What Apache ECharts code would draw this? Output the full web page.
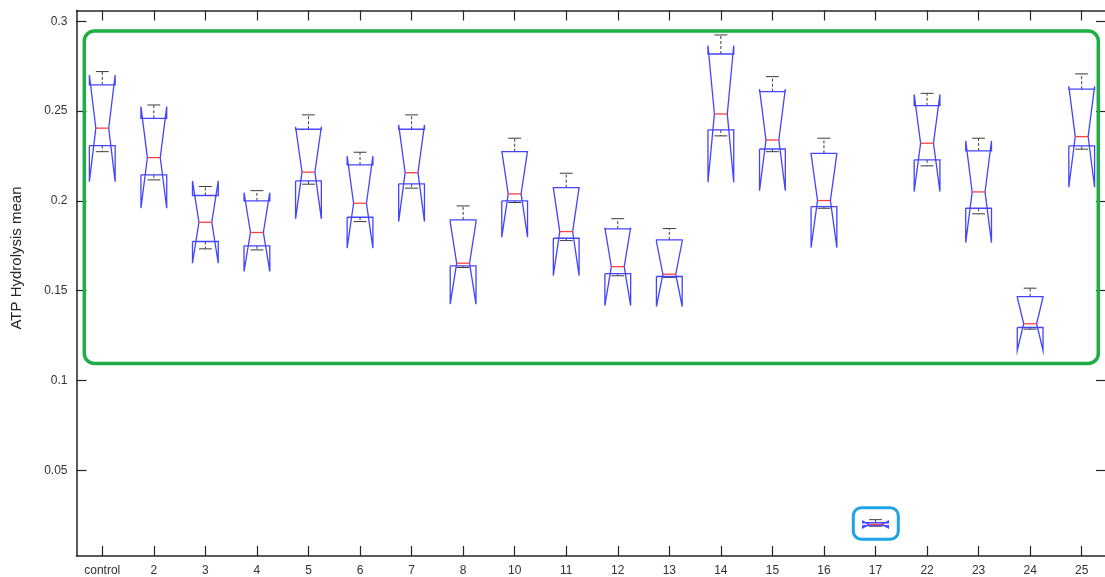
<!DOCTYPE html>
<html>
<head>
<meta charset="utf-8">
<script src="https://cdn.jsdelivr.net/npm/echarts@6/dist/echarts.min.js"></script>
<style>
html,body{margin:0;padding:0;background:#fff;}
#chart{width:1105px;height:577px;}
</style>
</head>
<body>
<div id="chart"></div>
<script>
const categories = ['control','2','3','4','5','6','7','8','10','11','12','13','14','15','16','17','22','23','24','25'];
const whiskerHigh = [0.2720,0.2534,0.2080,0.2057,0.2479,0.2271,0.2479,0.1972,0.2349,0.2154,0.1901,0.1846,0.2924,0.2692,0.2349,0.0225,0.2599,0.2349,0.1514,0.2707];
const notchHigh   = [0.2701,0.2525,0.2111,0.2046,0.2413,0.2250,0.2423,0.1883,0.2278,0.2074,0.1851,0.1775,0.2865,0.2622,0.2263,0.0217,0.2593,0.2334,0.1464,0.2638];
const q3          = [0.2646,0.2460,0.2030,0.2000,0.2399,0.2200,0.2399,0.1894,0.2274,0.2074,0.1844,0.1783,0.2818,0.2608,0.2265,0.0208,0.2530,0.2278,0.1467,0.2622];
const median      = [0.2405,0.2241,0.1881,0.1824,0.2160,0.1987,0.2157,0.1653,0.2039,0.1829,0.1634,0.1592,0.2484,0.2339,0.2002,0.0198,0.2321,0.2050,0.1316,0.2358];
const q1          = [0.2308,0.2145,0.1774,0.1750,0.2111,0.1909,0.2095,0.1638,0.2000,0.1792,0.1595,0.1579,0.2395,0.2289,0.1968,0.0192,0.2228,0.1959,0.1295,0.2306];
const whiskerLow  = [0.2274,0.2117,0.1733,0.1727,0.2093,0.1885,0.2071,0.1629,0.1991,0.1779,0.1583,0.1574,0.2362,0.2274,0.1959,0.0189,0.2195,0.1928,0.1286,0.2288];
const notchLow    = [0.2107,0.1959,0.1653,0.1607,0.1900,0.1737,0.1885,0.1425,0.1798,0.1584,0.1417,0.1412,0.2104,0.2057,0.1740,0.0179,0.2052,0.1768,0.1167,0.2076];
const yTicks = [0.05,0.1,0.15,0.2,0.25,0.3];
const yLabels = ['0.05','0.1','0.15','0.2','0.25','0.3'];
const yMin = 0.00228, yMax = 0.30601;
const xPositions = categories.map((c,i)=>i+1);
const xMin = 0.5, xMax = 20.452;

const data = categories.map((c,i)=>[xPositions[i], whiskerLow[i], q1[i], median[i], q3[i], whiskerHigh[i], notchLow[i], notchHigh[i]]);

const BLUE = '#4444ff', RED = '#ff4040', BLACK = '#3a3a3a';
const FONT = "'Liberation Sans', Arial, Helvetica, sans-serif";
const AX = '#262626';

function renderItem(params, api){
  const x = api.value(0);
  const unit = api.size([1,0])[0];
  const h = unit*0.25;
  const cx = api.coord([x, api.value(3)])[0];
  const Y = v => api.coord([x, v])[1];
  const wl=Y(api.value(1)), yq1=Y(api.value(2)), ym=Y(api.value(3)), yq3=Y(api.value(4)), wh=Y(api.value(5)), nlo=Y(api.value(6)), nhi=Y(api.value(7));
  const pts = [[cx-h,yq1],[cx-h,nlo],[cx-h/2,ym],[cx-h,nhi],[cx-h,yq3],[cx+h,yq3],[cx+h,nhi],[cx+h/2,ym],[cx+h,nlo],[cx+h,yq1],[cx-h,yq1]];
  const ch = h/2;
  return {type:'group', children:[
    {type:'line', shape:{x1:cx,y1:yq3,x2:cx,y2:wh}, style:{stroke:BLACK,lineWidth:1,lineDash:[3,2]}},
    {type:'line', shape:{x1:cx,y1:yq1,x2:cx,y2:wl}, style:{stroke:BLACK,lineWidth:1,lineDash:[3,2]}},
    {type:'line', shape:{x1:cx-ch,y1:wh,x2:cx+ch,y2:wh}, style:{stroke:BLACK,lineWidth:1}},
    {type:'line', shape:{x1:cx-ch,y1:wl,x2:cx+ch,y2:wl}, style:{stroke:BLACK,lineWidth:1}},
    {type:'polyline', shape:{points:pts}, style:{stroke:BLUE,fill:null,lineWidth:1.3,lineJoin:'miter'}},
    {type:'line', shape:{x1:cx-h/2,y1:ym,x2:cx+h/2,y2:ym}, style:{stroke:RED,lineWidth:1.3}}
  ]};
}

const chart = echarts.init(document.getElementById('chart'), null, {renderer:'canvas'});
const axisLineStyle = {color:AX, width:1.5};
const tickStyle = {color:AX, width:1.2};
chart.setOption({
  animation:false,
  backgroundColor:'#fff',
  grid:{left:76.5, top:10.5, right:0, height:545.5, containLabel:false},
  xAxis:[
    {type:'value', min:xMin, max:xMax, position:'bottom',
     axisLine:{show:true, onZero:false, lineStyle:axisLineStyle},
     axisTick:{show:true, inside:true, length:10, customValues:xPositions, lineStyle:tickStyle},
     axisLabel:{customValues:xPositions, color:'#333', fontSize:12, fontFamily:FONT, margin:9,
       formatter:v=>{const k=xPositions.indexOf(Math.round(v)); return k>=0?categories[k]:'';}},
     splitLine:{show:false}},
    {type:'value', min:xMin, max:xMax, position:'top',
     axisLine:{show:true, onZero:false, lineStyle:axisLineStyle},
     axisTick:{show:true, inside:true, length:10, customValues:xPositions, lineStyle:tickStyle},
     axisLabel:{show:false}, splitLine:{show:false}}
  ],
  yAxis:[
    {type:'value', min:yMin, max:yMax, position:'left',
     axisLine:{show:true, onZero:false, lineStyle:axisLineStyle},
     axisTick:{show:true, inside:true, length:10, customValues:yTicks, lineStyle:tickStyle},
     axisLabel:{customValues:yTicks, color:'#333', fontSize:12, fontFamily:FONT, margin:9,
       formatter:v=>{const k=yTicks.findIndex(t=>Math.abs(t-v)<1e-9); return k>=0?yLabels[k]:'';}},
     splitLine:{show:false}},
    {type:'value', min:yMin, max:yMax, position:'right',
     axisLine:{show:false},
     axisTick:{show:true, inside:true, length:9, customValues:yTicks, lineStyle:tickStyle},
     axisLabel:{show:false}, splitLine:{show:false}}
  ],
  series:[{type:'custom', renderItem, data, encode:{x:0, y:[1,2,3,4,5,6,7]}, clip:false, z:3}],
  graphic:[
    {type:'text', x:17, y:258, rotation:Math.PI/2, style:{text:'ATP Hydrolysis mean', fill:'#262626', font:"15px "+FONT, align:'center', verticalAlign:'middle'}},
    {type:'rect', shape:{x:84.3, y:31, width:1014, height:332.5, r:10}, style:{stroke:'#1fae45', fill:null, lineWidth:3.5}, z:10},
    {type:'rect', shape:{x:853.3, y:507.7, width:45, height:31.5, r:8}, style:{stroke:'#1ea3e6', fill:null, lineWidth:3}, z:10}
  ]
});
</script>
</body>
</html>
